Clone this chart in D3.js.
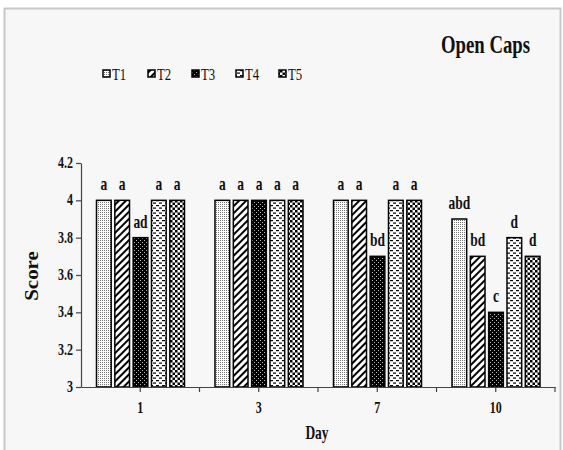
<!DOCTYPE html>
<html><head><meta charset="utf-8">
<script src="https://cdn.jsdelivr.net/npm/d3@7"></script>
<style>html,body{margin:0;padding:0;background:#fff;}svg{display:block;}</style>
</head><body>
<svg id="c" width="563" height="450"></svg>
<script>
const days = ["1", "3", "7", "10"];
const series = ["T1", "T2", "T3", "T4", "T5"];
const T1 = [4.0, 4.0, 4.0, 3.9];
const T2 = [4.0, 4.0, 4.0, 3.7];
const T3 = [3.8, 4.0, 3.7, 3.4];
const T4 = [4.0, 4.0, 4.0, 3.8];
const T5 = [4.0, 4.0, 4.0, 3.7];
const L1 = ["a", "a", "a", "abd"];
const L2 = ["a", "a", "a", "bd"];
const L3 = ["ad", "a", "bd", "c"];
const L4 = ["a", "a", "a", "d"];
const L5 = ["a", "a", "a", "d"];
const yTicks = [3, 3.2, 3.4, 3.6, 3.8, 4, 4.2];
const yTickLabels = ["3", "3.2", "3.4", "3.6", "3.8", "4", "4.2"];
const title = "Open Caps";
const xTitle = "Day";
const yTitle = "Score";

const vals = [T1, T2, T3, T4, T5];
const labs = [L1, L2, L3, L4, L5];
const SX = 0.75;
const FONT = "'Liberation Serif','Times New Roman',serif";

const svg = d3.select("#c");
svg.append("rect").attr("x", 0).attr("y", 0).attr("width", 563).attr("height", 450).attr("fill", "#fff");
svg.append("rect").attr("x", 4.5).attr("y", 8.5).attr("width", 556).attr("height", 450)
  .attr("fill", "#f7f7f7").attr("stroke", "#c8c8c8").attr("stroke-width", 2);

// patterns
const defs = svg.append("defs");
function pat(id, w, h, bg, transform) {
  const p = defs.append("pattern").attr("id", id).attr("patternUnits", "userSpaceOnUse")
    .attr("width", w).attr("height", h);
  if (transform) p.attr("patternTransform", transform);
  p.append("rect").attr("width", w).attr("height", h).attr("fill", bg);
  return p;
}
let p = pat("p1", 2, 2, "#fff");
p.append("rect").attr("x", 0).attr("y", 0).attr("width", 1).attr("height", 1).attr("fill", "#777");
p = pat("p2", 5, 5, "#fff", "rotate(45)");
p.append("rect").attr("x", 0).attr("y", 0).attr("width", 2).attr("height", 5).attr("fill", "#000");
p = pat("p3", 4, 4, "#000");
p.append("rect").attr("x", 0).attr("y", 0).attr("width", 1).attr("height", 1).attr("fill", "#bbb");
p.append("rect").attr("x", 2).attr("y", 2).attr("width", 1).attr("height", 1).attr("fill", "#bbb");
p = pat("p4", 6, 5, "#fff");
p.append("rect").attr("x", 0).attr("y", 0).attr("width", 3).attr("height", 1.2).attr("fill", "#000");
p.append("rect").attr("x", 3).attr("y", 2.5).attr("width", 3).attr("height", 1.2).attr("fill", "#000");
p = pat("p5", 5, 5, "#fff");
p.append("rect").attr("x", 0).attr("y", 0).attr("width", 2.5).attr("height", 2.5).attr("fill", "#000");
p.append("rect").attr("x", 2.5).attr("y", 2.5).attr("width", 2.5).attr("height", 2.5).attr("fill", "#000");
const fills = ["url(#p1)", "url(#p2)", "url(#p3)", "url(#p4)", "url(#p5)"];

const x0 = d3.scaleBand().domain(days).range([81, 555]).padding(0);
const x1 = d3.scaleBand().domain(series).range([15.5, 103.5]).paddingInner(0.2).paddingOuter(0);
const y = d3.scaleLinear().domain([3, 4.2]).range([387, 163]);

function txt(g, s, x, yy, size, weight, anchor) {
  return g.append("text").attr("transform", `translate(${x},${yy}) scale(${SX},1)`)
    .attr("text-anchor", anchor || "middle").attr("font-family", FONT)
    .attr("font-size", size).attr("font-weight", weight || "normal").attr("fill", "#111").text(s);
}

// bars
const bars = svg.append("g");
series.forEach((s, si) => {
  days.forEach((d, di) => {
    const v = vals[si][di];
    const bx = x0(d) + x1(s);
    bars.append("rect").attr("x", bx).attr("y", y(v)).attr("width", x1.bandwidth())
      .attr("height", y(3) - y(v)).attr("fill", fills[si]).attr("stroke", "#000").attr("stroke-width", 1.5);
    txt(bars, labs[si][di], bx + x1.bandwidth() / 2, y(v) - 10, 18, "bold");
  });
});

// y axis
const ya = svg.append("g").attr("transform", "translate(81,0)")
  .call(d3.axisLeft(y).tickValues(yTicks).tickSize(5).tickSizeOuter(0)
    .tickFormat((d, i) => yTickLabels[i]));
ya.select(".domain").attr("stroke", "#444").attr("stroke-width", 1.2);
ya.selectAll(".tick line").attr("stroke", "#444").attr("stroke-width", 1.2);
ya.selectAll(".tick text").remove();
yTicks.forEach((t, i) => txt(svg, yTickLabels[i], 73, y(t) + 5, 16, "bold", "end"));

// x axis
const xa = svg.append("g").attr("transform", "translate(0,387)")
  .call(d3.axisBottom(x0).tickSize(5).tickSizeOuter(0));
xa.select(".domain").attr("stroke", "#444").attr("stroke-width", 1.2);
xa.selectAll(".tick line").attr("stroke", "#444").attr("stroke-width", 1.2);
xa.selectAll(".tick text").remove();
days.forEach((d, i) => {
  const bx = x0(d) + x0.bandwidth();
  xa.append("line").attr("x1", bx).attr("x2", bx).attr("y1", 0).attr("y2", 5)
    .attr("stroke", "#444").attr("stroke-width", 1.2);
  txt(svg, d, x0(d) + x0.bandwidth() / 2, 413, 16, "bold");
});

// titles
txt(svg, xTitle, 317, 439, 18, "bold");
svg.append("text").attr("transform", `translate(38,276) rotate(-90) scale(1,0.85)`)
  .attr("text-anchor", "middle").attr("font-family", FONT).attr("font-size", 21)
  .attr("font-weight", "bold").attr("fill", "#111").text(yTitle);
txt(svg, title, 530, 53, 25, "bold", "end");

// legend
const lx = [103, 148, 192, 236, 279];
series.forEach((s, i) => {
  svg.append("rect").attr("x", lx[i]).attr("y", 70).attr("width", 7).attr("height", 7)
    .attr("fill", fills[i]).attr("stroke", "#000").attr("stroke-width", 1.5);
  txt(svg, s, lx[i] + 9, 80, 17, "normal", "start");
});
</script>
</body></html>
